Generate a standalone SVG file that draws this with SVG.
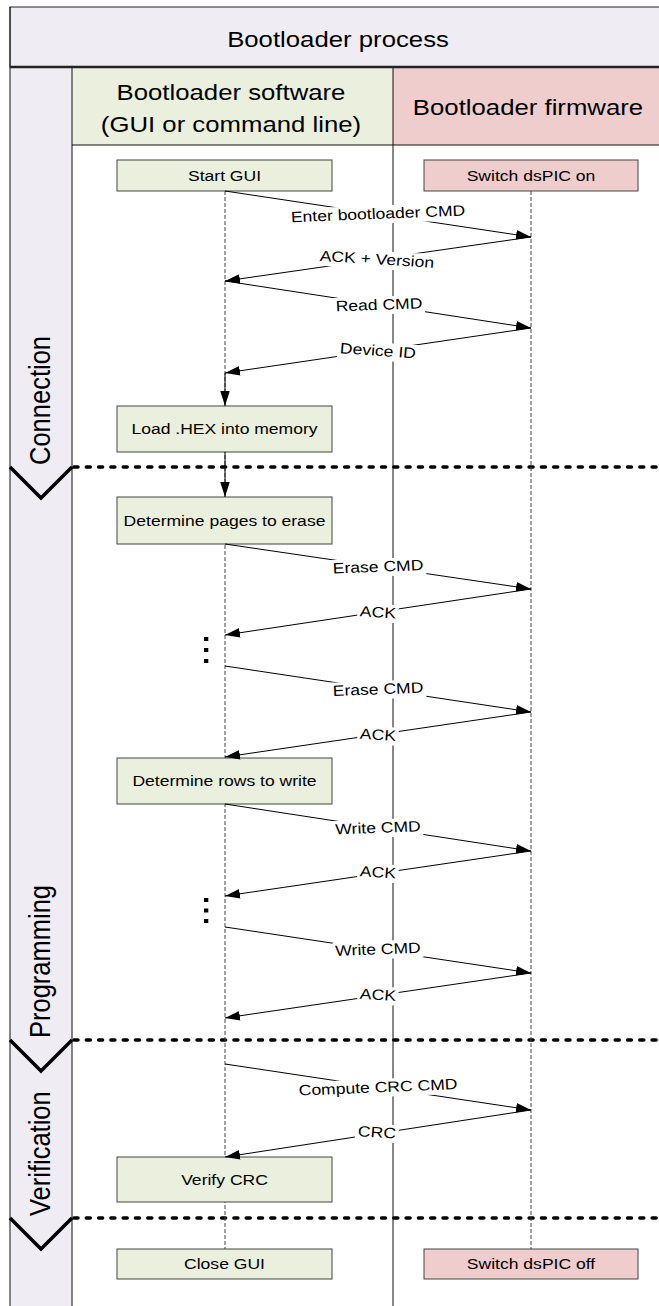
<svg xmlns="http://www.w3.org/2000/svg" width="659" height="1306" viewBox="0 0 659 1306">
<style>
text{font-family:"Liberation Sans",Arial,sans-serif;fill:#000}
.hdr{font-size:22px;text-anchor:middle}
.ph{font-size:25.5px;text-anchor:start}
.nt{font-size:15px;text-anchor:middle}
.lt{font-size:15px;text-anchor:middle}
.lbl rect{fill:#fff}
.gbox{fill:#ebf0de;stroke:#444;stroke-width:1}
.pbox{fill:#efcdcd;stroke:#444;stroke-width:1}
.frame{stroke:#111;stroke-width:1;fill:none}
.life{stroke:#444;stroke-width:1;stroke-dasharray:4 2;fill:none}
.sep{stroke:#000;stroke-width:3.5;stroke-dasharray:4 8.3;stroke-linecap:round;fill:none}
.chev{stroke:#000;stroke-width:3.5;fill:none}
.msg{stroke:#000;stroke-width:1;fill:none;marker-end:url(#ah)}
.dot{fill:#000}
</style>
<defs>
<marker id="ah" markerUnits="userSpaceOnUse" markerWidth="15" markerHeight="10" refX="15" refY="4.75" orient="auto" viewBox="0 0 15 9.5">
<path d="M0,0 L15,4.75 L0,9.5 z" fill="#000"/>
</marker>
</defs>
<g id="frame">
<rect x="0" y="0" width="659" height="1306" fill="#fff"/>
<rect x="10" y="7" width="660" height="60" fill="#efedf3" stroke="#222" stroke-width="1"/>
<rect x="10" y="67" width="62" height="1250" fill="#efedf3"/>
<rect x="72" y="67" width="321" height="78" fill="#ebf0de"/>
<rect x="393" y="67" width="277" height="78" fill="#efcdcd"/>
<line class="frame" x1="10" y1="7" x2="10" y2="1306"/>
<line class="frame" x1="72" y1="67" x2="72" y2="1306"/>
<line class="frame" x1="393" y1="67" x2="393" y2="1306"/>
<line class="frame" x1="72" y1="145" x2="659" y2="145"/>
<line x1="10" y1="67" x2="659" y2="67" stroke="#222" stroke-width="2.5"/>
<text class="hdr" transform="translate(338,46.5) scale(1.17,1)">Bootloader process</text>
<text class="hdr" transform="translate(231,100) scale(1.17,1)">Bootloader software</text>
<text class="hdr" transform="translate(231,132) scale(1.17,1)">(GUI or command line)</text>
<text class="hdr" transform="translate(528,115) scale(1.17,1)">Bootloader firmware</text>
</g>
<g id="phases">
<line class="sep" x1="74" y1="467" x2="659" y2="467"/>
<line class="sep" x1="74" y1="1040" x2="659" y2="1040"/>
<line class="sep" x1="74" y1="1218" x2="659" y2="1218"/>
<polyline class="chev" points="10,467 41,498 72,467"/>
<polyline class="chev" points="10,1040 41,1071 72,1040"/>
<polyline class="chev" points="10,1218 41,1249 72,1218"/>
<text class="ph" transform="translate(50,465) scale(1.17,1) rotate(-90)">Connection</text>
<text class="ph" transform="translate(50,1038) scale(1.17,1) rotate(-90)">Programming</text>
<text class="ph" transform="translate(50,1216) scale(1.17,1) rotate(-90)">Verification</text>
</g>
<g id="lifelines">
<line class="life" x1="225" y1="191" x2="225" y2="1249"/>
<line class="life" x1="531" y1="191" x2="531" y2="1249"/>
</g>
<g id="start-gui"><rect class="gbox" x="117" y="160" width="215" height="31"/><text class="nt" transform="translate(224.5,181) scale(1.17,1)">Start GUI</text></g>
<g id="switch-on"><rect class="pbox" x="424" y="160" width="214" height="31"/><text class="nt" transform="translate(531,181) scale(1.17,1)">Switch dsPIC on</text></g>
<g id="load-hex"><rect class="gbox" x="117" y="406" width="215" height="46"/><text class="nt" transform="translate(224.5,434.4) scale(1.17,1)">Load .HEX into memory</text></g>
<g id="det-pages"><rect class="gbox" x="117" y="497" width="215" height="47"/><text class="nt" transform="translate(224.5,526) scale(1.17,1)">Determine pages to erase</text></g>
<g id="det-rows"><rect class="gbox" x="117" y="758" width="215" height="46"/><text class="nt" transform="translate(224.5,786.4) scale(1.17,1)">Determine rows to write</text></g>
<g id="verify-crc"><rect class="gbox" x="117" y="1157" width="215" height="45"/><text class="nt" transform="translate(224.5,1185) scale(1.17,1)">Verify CRC</text></g>
<g id="close-gui"><rect class="gbox" x="117" y="1249" width="215" height="30"/><text class="nt" transform="translate(224.5,1269.4) scale(1.17,1)">Close GUI</text></g>
<g id="switch-off"><rect class="pbox" x="424" y="1249" width="214" height="30"/><text class="nt" transform="translate(531,1269.4) scale(1.17,1)">Switch dsPIC off</text></g>
<g id="connectors">
<line class="msg" x1="225" y1="191" x2="531" y2="237"/>
<line class="msg" x1="531" y1="237" x2="225" y2="281"/>
<line class="msg" x1="225" y1="281" x2="531" y2="328"/>
<line class="msg" x1="531" y1="328" x2="225" y2="373"/>
<line class="msg" x1="225" y1="373" x2="225" y2="406"/>
<line class="msg" x1="225" y1="452" x2="225" y2="497"/>
<line class="msg" x1="225" y1="544" x2="531" y2="589"/>
<line class="msg" x1="531" y1="589" x2="225" y2="635"/>
<line class="msg" x1="225" y1="666" x2="531" y2="712"/>
<line class="msg" x1="531" y1="712" x2="225" y2="757"/>
<line class="msg" x1="225" y1="804" x2="531" y2="851"/>
<line class="msg" x1="531" y1="851" x2="225" y2="896"/>
<line class="msg" x1="225" y1="927" x2="531" y2="973"/>
<line class="msg" x1="531" y1="973" x2="225" y2="1018"/>
<line class="msg" x1="225" y1="1064" x2="531" y2="1110"/>
<line class="msg" x1="531" y1="1110" x2="225" y2="1157"/>
<rect class="dot" x="204" y="637" width="4.3" height="4"/>
<rect class="dot" x="204" y="648" width="4.3" height="4"/>
<rect class="dot" x="204" y="659" width="4.3" height="4"/>
<rect class="dot" x="204" y="898" width="4.3" height="4"/>
<rect class="dot" x="204" y="908.5" width="4.3" height="4"/>
<rect class="dot" x="204" y="919" width="4.3" height="4"/>
<g class="lbl" transform="translate(378,213.5) scale(1.17,1) rotate(-2.6)"><rect x="-76.5" y="-8" width="153" height="18"/><text class="lt" y="5.3">Enter bootloader CMD</text></g>
<g class="lbl" transform="translate(377,259) scale(1.17,1) rotate(4)"><rect x="-51.5" y="-8" width="103" height="18"/><text class="lt" y="5.3">ACK + Version</text></g>
<g class="lbl" transform="translate(379,304.5) scale(1.17,1) rotate(-2.4)"><rect x="-39" y="-8" width="78" height="18"/><text class="lt" y="5.3">Read CMD</text></g>
<g class="lbl" transform="translate(378,350.5) scale(1.17,1) rotate(4.5)"><rect x="-34.5" y="-8" width="69" height="18"/><text class="lt" y="5.3">Device ID</text></g>
<g class="lbl" transform="translate(378,566.5) scale(1.17,1) rotate(-2.5)"><rect x="-41" y="-8" width="82" height="18"/><text class="lt" y="5.3">Erase CMD</text></g>
<g class="lbl" transform="translate(378,612) scale(1.17,1) rotate(4)"><rect x="-17.5" y="-8" width="35" height="18"/><text class="lt" y="5.3">ACK</text></g>
<g class="lbl" transform="translate(378,689) scale(1.17,1) rotate(-2.5)"><rect x="-41" y="-8" width="82" height="18"/><text class="lt" y="5.3">Erase CMD</text></g>
<g class="lbl" transform="translate(378,734.5) scale(1.17,1) rotate(4)"><rect x="-17.5" y="-8" width="35" height="18"/><text class="lt" y="5.3">ACK</text></g>
<g class="lbl" transform="translate(378,827.5) scale(1.17,1) rotate(-2.5)"><rect x="-38.5" y="-8" width="77" height="18"/><text class="lt" y="5.3">Write CMD</text></g>
<g class="lbl" transform="translate(378,872) scale(1.17,1) rotate(4)"><rect x="-17.5" y="-8" width="35" height="18"/><text class="lt" y="5.3">ACK</text></g>
<g class="lbl" transform="translate(378,949) scale(1.17,1) rotate(-2.5)"><rect x="-38.5" y="-8" width="77" height="18"/><text class="lt" y="5.3">Write CMD</text></g>
<g class="lbl" transform="translate(378,994.5) scale(1.17,1) rotate(4)"><rect x="-17.5" y="-8" width="35" height="18"/><text class="lt" y="5.3">ACK</text></g>
<g class="lbl" transform="translate(378,1087) scale(1.17,1) rotate(-2.8)"><rect x="-70" y="-8" width="140" height="18"/><text class="lt" y="5.3">Compute CRC CMD</text></g>
<g class="lbl" transform="translate(377,1132) scale(1.17,1) rotate(4)"><rect x="-18.5" y="-8" width="37" height="18"/><text class="lt" y="5.3">CRC</text></g>
</g>
</svg>
